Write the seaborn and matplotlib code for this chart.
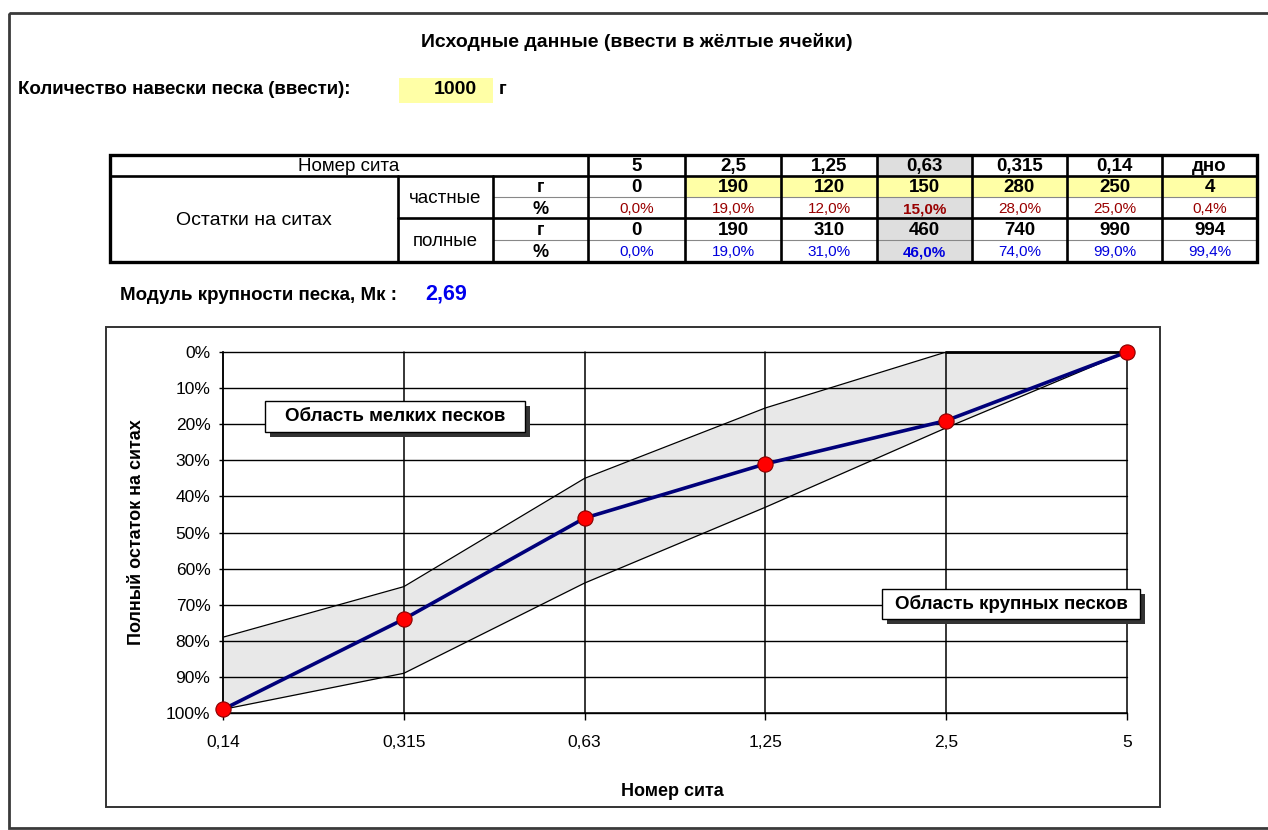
"""Sand grading sheet: input table plus grading curve between zone limits."""

import matplotlib

matplotlib.use("Agg")
import matplotlib.pyplot as plt
import numpy as np
import pandas as pd
import seaborn as sns
from matplotlib.patches import Rectangle

# --- table data ---
SIEVES = ["5", "2,5", "1,25", "0,63", "0,315", "0,14", "дно"]
PARTIAL_G = [0, 190, 120, 150, 280, 250, 4]
PARTIAL_PCT = [0.0, 19.0, 12.0, 15.0, 28.0, 25.0, 0.4]
FULL_G = [0, 190, 310, 460, 740, 990, 994]
FULL_PCT = [0.0, 19.0, 31.0, 46.0, 74.0, 99.0, 99.4]
SAMPLE_MASS = 1000
FINENESS = "2,69"

# --- chart data ---
CHART_SIEVES = ["0,14", "0,315", "0,63", "1,25", "2,5", "5"]
TOTAL_RESIDUE = [99, 74, 46, 31, 19, 0]
FINE_LIMIT = [79, 65, 35, 15.5, 0, 0]
COARSE_LIMIT = [99, 89, 64, 43, 21, 0]
Y_TICKS = [0, 10, 20, 30, 40, 50, 60, 70, 80, 90, 100]

W, H = 1268, 830
YELLOW = "#ffffa6"
GREY = "#dedede"
RED_TXT = "#990000"
BLUE_TXT = "#0000dd"

sns.set_theme(style="white")
plt.rcParams["font.family"] = ["Liberation Sans", "DejaVu Sans"]
plt.rcParams.update({"text.color": "black", "axes.labelcolor": "black",
                     "xtick.color": "black", "ytick.color": "black"})

fig = plt.figure(figsize=(W / 100, H / 100), dpi=100)
fig.patch.set_facecolor("white")

# chart axes, placed in pixel terms
px_l, px_r, px_t, px_b = 223, 1127, 352, 713
ax = fig.add_axes([px_l / W, 1 - px_b / H, (px_r - px_l) / W, (px_b - px_t) / H])
ax.set_facecolor("none")

pos = np.arange(len(CHART_SIEVES))
ax.fill_between(pos, FINE_LIMIT, COARSE_LIMIT, color="#e8e8e8", zorder=1, lw=0)
for yv in Y_TICKS:
    ax.axhline(yv, color="black", lw=1.0, zorder=2, clip_on=False)
for xv in pos:
    ax.axvline(xv, color="black", lw=1.1, zorder=2, clip_on=False)

sns.lineplot(x=pos, y=FINE_LIMIT, ax=ax, color="black", lw=0.9, zorder=3)
sns.lineplot(x=pos, y=COARSE_LIMIT, ax=ax, color="black", lw=0.9, zorder=3)
ax.plot(pos[4:], FINE_LIMIT[4:], color="black", lw=2.0, zorder=3, clip_on=False)
sns.lineplot(x=pos, y=TOTAL_RESIDUE, ax=ax, color="#00007a", lw=2.6, zorder=4)
sns.scatterplot(x=pos, y=TOTAL_RESIDUE, ax=ax, color="#ff0000", s=120,
                edgecolor="#880000", linewidth=0.8, zorder=5, clip_on=False)

ax.set_xlim(0, 5)
ax.set_ylim(100, 0)
ax.set_xticks(pos)
ax.set_xticklabels(CHART_SIEVES)
ax.set_yticks(Y_TICKS)
ax.set_yticklabels([f"{v}%" for v in Y_TICKS])
ax.tick_params(axis="x", direction="out", length=5, width=1, color="black",
               pad=11, labelsize=12.5, bottom=True)
ax.tick_params(axis="y", direction="out", length=3, width=1, color="black",
               pad=6, labelsize=12.5, left=True)
for side in ("top", "right"):
    ax.spines[side].set_visible(False)
for side in ("left", "bottom"):
    ax.spines[side].set_color("black")
    ax.spines[side].set_linewidth(1.1)
ax.set_xlabel("Номер сита", fontsize=13, fontweight="bold")
ax.set_ylabel("Полный остаток на ситах", fontsize=13, fontweight="bold")
ax.xaxis.set_label_coords(0.497, -0.194)
ax.yaxis.set_label_coords(-0.086, 0.5)

# overlay in pixel coordinates for the sheet part
ov = fig.add_axes([0, 0, 1, 1], zorder=10)
ov.set_xlim(0, W)
ov.set_ylim(H, 0)
ov.axis("off")
ov.patch.set_alpha(0)

ov.add_patch(Rectangle((9, 13), W + 20, 815, fill=False, ec="#3a3a3a", lw=2))
ov.add_patch(Rectangle((106, 327), 1054, 480, fill=False, ec="#333333", lw=1.4))

ov.text(637, 42, "Исходные данные (ввести в жёлтые ячейки)", ha="center",
        va="center", fontsize=14, fontweight="bold")
ov.text(18, 90, "Количество навески песка (ввести):", ha="left", va="center",
        fontsize=13.5, fontweight="bold")
ov.add_patch(Rectangle((399, 78), 94, 25, fc=YELLOW, ec="none"))
ov.text(455, 90, str(SAMPLE_MASS), ha="center", va="center", fontsize=14,
        fontweight="bold")
ov.text(503, 90, "г", ha="center", va="center", fontsize=13.5,
        fontweight="bold")

ov.text(120, 295, "Модуль крупности песка, Мк :", ha="left", va="center",
        fontsize=13.5, fontweight="bold")
ov.text(425, 294, FINENESS, ha="left", va="center", fontsize=15.5,
        fontweight="bold", color="#0000ee")

# table geometry
cols = [588, 685, 781, 877, 972, 1067, 1162, 1257]
rows = [155, 176, 197.5, 218.5, 240, 262]
x_left, x_grp, x_unit = 110, 398, 493

fills = {}
for i in range(len(SIEVES)):
    if SIEVES[i] == "0,63":
        for r in range(5):
            fills[(r, i)] = GREY
    if i > 0:
        fills[(1, i)] = YELLOW
for (r, i), c in fills.items():
    ov.add_patch(Rectangle((cols[i], rows[r]), cols[i + 1] - cols[i],
                           rows[r + 1] - rows[r], fc=c, ec="none", zorder=1))

thick, thin = 1.9, 0.8
ov.add_patch(Rectangle((x_left, rows[0]), cols[-1] - x_left, rows[-1] - rows[0],
                       fill=False, ec="black", lw=2.4, zorder=3))
ov.plot([x_left, cols[-1]], [rows[1]] * 2, color="black", lw=thick, zorder=3)
ov.plot([x_grp, cols[-1]], [rows[3]] * 2, color="black", lw=thick, zorder=3)
for yy in (rows[2], rows[4]):
    ov.plot([x_unit, cols[-1]], [yy] * 2, color="#888888", lw=thin, zorder=2)
for xx in (x_grp, x_unit):
    ov.plot([xx, xx], [rows[1], rows[-1]], color="black", lw=thick, zorder=3)
for xx in cols[:-1]:
    ov.plot([xx, xx], [rows[0], rows[-1]], color="black", lw=thick, zorder=3)


def cy(r0, r1):
    return (rows[r0] + rows[r1]) / 2 + 1


ov.text((x_left + cols[0]) / 2, cy(0, 1), "Номер сита", ha="center",
        va="center", fontsize=13.5, zorder=4)
ov.text((x_left + x_grp) / 2, cy(1, 5), "Остатки на ситах", ha="center",
        va="center", fontsize=14, zorder=4)
ov.text((x_grp + x_unit) / 2, cy(1, 3), "частные", ha="center", va="center",
        fontsize=13.5, zorder=4)
ov.text((x_grp + x_unit) / 2, cy(3, 5), "полные", ha="center", va="center",
        fontsize=13.5, zorder=4)
for r, u in enumerate(["г", "%", "г", "%"], start=1):
    ov.text((x_unit + cols[0]) / 2, cy(r, r + 1), u, ha="center", va="center",
            fontsize=13, fontweight="bold", zorder=4)

for i, s in enumerate(SIEVES):
    cx = (cols[i] + cols[i + 1]) / 2
    hl = "bold" if s == "0,63" else "normal"
    ov.text(cx, cy(0, 1), s, ha="center", va="center", fontsize=13.5,
            fontweight="bold", zorder=4)
    ov.text(cx, cy(1, 2), str(PARTIAL_G[i]), ha="center", va="center",
            fontsize=13.5, fontweight="bold", zorder=4)
    ov.text(cx, cy(2, 3), f"{PARTIAL_PCT[i]:.1f}%".replace(".", ","),
            ha="center", va="center", fontsize=11, color=RED_TXT,
            fontweight=hl, zorder=4)
    ov.text(cx, cy(3, 4), str(FULL_G[i]), ha="center", va="center",
            fontsize=13.5, fontweight="bold", zorder=4)
    ov.text(cx, cy(4, 5), f"{FULL_PCT[i]:.1f}%".replace(".", ","),
            ha="center", va="center", fontsize=11, color=BLUE_TXT,
            fontweight=hl, zorder=4)


def label_box(x0, y0, x1, y1, text):
    ov.add_patch(Rectangle((x0 + 5, y0 + 5), x1 - x0, y1 - y0, fc="#333333",
                           ec="none", zorder=5))
    ov.add_patch(Rectangle((x0, y0), x1 - x0, y1 - y0, fc="white",
                           ec="black", lw=1.0, zorder=6))
    ov.text((x0 + x1) / 2, (y0 + y1) / 2, text, ha="center", va="center",
            fontsize=13.5, fontweight="bold", zorder=7)


label_box(265, 401, 525, 432, "Область мелких песков")
label_box(882, 589, 1140, 619, "Область крупных песков")

fig.savefig("out.png", dpi=100, facecolor="white")
